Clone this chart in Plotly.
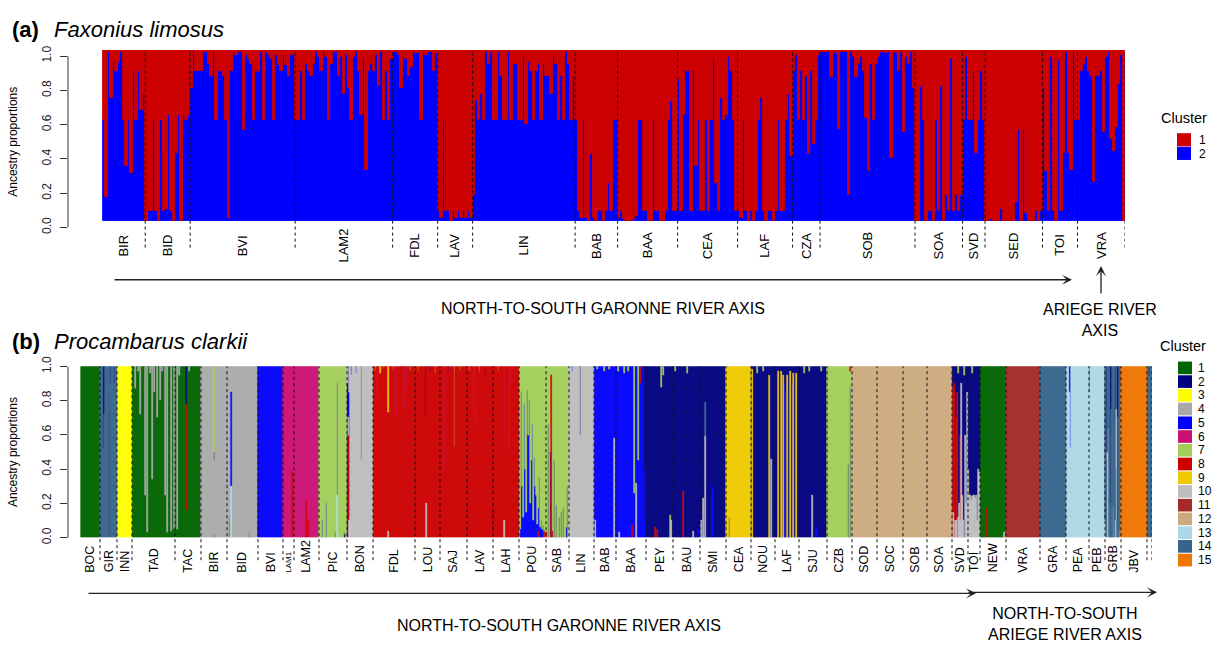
import plotly.graph_objects as go

# =====================================================================
# Panel (a) - Faxonius limosus : proportion of cluster 2 (blue) per individual
# (cluster 1 = remainder)
# =====================================================================
A_POPS = ["BIR", "BID", "BVI", "LAM2", "FDL", "LAV", "LIN", "BAB", "BAA", "CEA",
          "LAF", "CZA", "SOB", "SOA", "SVD", "SED", "TOI", "VRA"]

A_BIR = [0.59, 0.14, 0.99, 0.72, 0.93, 0.88, 0.93, 0.99, 0.59, 0.32, 0.59, 0.28, 0.88, 0.59, 0.88, 0.65, 0.74]
A_BID = [0.0, 0.06, 0.06, 0.59, 0.06, 0.0, 0.59, 0.06, 0.07, 0.62, 0.06, 0.0, 0.40, 0.62, 0.0, 0.62, 0.59, 0.62]
A_BVI = [0.78, 0.99, 0.88, 0.88, 0.88, 0.99, 0.99, 0.92, 0.85, 0.99, 0.59, 0.88, 0.88, 0.85, 0.59, 0.02,
         0.88, 0.99, 0.97, 0.99, 0.99, 0.53, 0.97, 0.95, 0.92, 0.59, 0.88, 0.87, 0.99, 0.59, 0.99, 0.97,
         0.95, 0.59, 0.97, 0.91, 0.88, 0.97, 0.91, 0.85, 0.97, 0.97]
A_LAM2 = [0.59, 0.59, 0.88, 0.59, 0.92, 0.88, 0.85, 0.92, 0.99, 0.96, 0.88, 0.99, 0.96, 0.59, 0.92, 0.99,
          0.99, 0.85, 0.96, 0.74, 0.97, 0.78, 0.59, 0.96, 0.99, 0.88, 0.62, 0.94, 0.30, 0.88, 0.92, 0.88,
          0.97, 0.79, 0.99, 0.59, 0.88, 0.59, 0.95]
A_FDL = [0.99, 0.99, 0.97, 0.78, 0.96, 0.95, 0.85, 0.90, 0.99, 0.98, 0.98, 0.59, 0.98, 0.97, 0.99, 0.99, 0.88, 0.98]
A_LAV = [0.06, 0.02, 0.59, 0.06, 0.06, 0.0, 0.06, 0.02, 0.06, 0.02, 0.06, 0.02, 0.06, 0.02]
A_LIN = [0.15, 0.71, 0.59, 0.74, 0.59, 0.99, 0.92, 0.99, 0.59, 0.59, 0.99, 0.85, 0.59, 0.59, 0.99, 0.59,
         0.92, 0.92, 0.59, 0.59, 0.96, 0.57, 0.93, 0.88, 0.59, 0.88, 0.92, 0.59, 0.92, 0.85, 0.85, 0.74,
         0.96, 0.92, 0.59, 0.85, 0.59, 0.99, 0.92, 0.59, 0.85]
A_BAB = [0.59, 0.06, 0.02, 0.59, 0.02, 0.0, 0.39, 0.02, 0.0, 0.06, 0.06, 0.0, 0.06, 0.22, 0.06, 0.59, 0.59]
A_BAA = [0.02, 0.06, 0.01, 0.0, 0.0, 0.0, 0.01, 0.03, 0.59, 0.59, 0.06, 0.06, 0.0, 0.0, 0.59, 0.06,
         0.06, 0.0, 0.0, 0.06, 0.59, 0.70, 0.06, 0.06]
A_CEA = [0.83, 0.06, 0.62, 0.88, 0.88, 0.06, 0.88, 0.32, 0.59, 0.06, 0.06, 0.59, 0.06, 0.59, 0.94, 0.22,
         0.06, 0.72, 0.59, 0.62, 0.96, 0.88, 0.59, 0.06]
A_LAF = [0.06, 0.02, 0.59, 0.06, 0.0, 0.06, 0.0, 0.06, 0.59, 0.72, 0.06, 0.0, 0.06, 0.06, 0.0, 0.06,
         0.59, 0.06, 0.06, 0.59, 0.74, 0.38]
A_CZA = [0.88, 0.97, 0.59, 0.88, 0.59, 0.85, 0.39, 0.88, 0.45, 0.59, 0.97]
A_SOB = [0.99, 0.99, 0.99, 0.99, 0.84, 0.99, 0.98, 0.54, 0.99, 0.99, 0.99, 0.15, 0.99, 0.96, 0.84, 0.92,
         0.96, 0.88, 0.60, 0.29, 0.92, 0.59, 0.92, 0.96, 0.99, 0.99, 0.98, 0.99, 0.37, 0.99, 0.98, 0.88,
         0.99, 0.52, 0.96, 0.92, 0.99, 0.78]
A_SOA = [0.0, 0.0, 0.79, 0.59, 0.0, 0.06, 0.06, 0.0, 0.59, 0.06, 0.79, 0.0, 0.15, 0.06, 0.95, 0.06, 0.15, 0.06, 0.15]
A_SVD = [0.59, 0.96, 0.59, 0.59, 0.88, 0.40, 0.59, 0.88, 0.59]
A_SED = [0.0, 0.0, 0.01, 0.0, 0.0, 0.0, 0.07, 0.0, 0.0, 0.0, 0.0, 0.0, 0.11, 0.53, 0.0, 0.53, 0.05, 0.0,
         0.0, 0.0, 0.06, 0.0, 0.06]
A_TOI = [0.78, 0.29, 0.06, 0.96, 0.06, 0.0, 0.94, 0.06, 0.40, 0.99, 0.40, 0.30, 0.99, 0.59]
A_VRA = [0.59, 0.88, 0.92, 0.96, 0.88, 0.85, 0.23, 0.85, 0.85, 0.88, 0.52, 0.96, 0.99, 0.48, 0.41, 0.55,
         0.80, 0.97, 0.0]

A_VALUES = [A_BIR, A_BID, A_BVI, A_LAM2, A_FDL, A_LAV, A_LIN, A_BAB, A_BAA, A_CEA,
            A_LAF, A_CZA, A_SOB, A_SOA, A_SVD, A_SED, A_TOI, A_VRA]
A_COLORS = {1: "#CC0000", 2: "#0000FF"}

# =====================================================================
# Panel (b) - Procambarus clarkii : 15 clusters
# each population: size, dominant cluster; admixed individuals listed below
# =====================================================================
B_POPS = ["BOC", "GIR", "INN", "TAD", "TAC", "BIR", "BID", "BVI", "LAM1", "LAM2", "PIC", "BON",
          "FDL", "LOU", "SAJ", "LAV", "LAH", "POU", "SAB", "LIN", "BAB", "BAA", "PEY", "BAU",
          "SMI", "CEA", "NOU", "LAF", "SJU", "CZB", "SOD", "SOC", "SOB", "SOA", "SVD", "TOI",
          "NEW", "VRA", "GRA", "PEA", "PEB", "GRB", "JBV", ""]
B_SIZES = [19, 17, 15, 43, 26, 26, 31, 25, 11, 25, 28, 26,
           42, 25, 27, 26, 26, 27, 23, 25, 22, 30, 27, 27,
           26, 25, 24, 24, 28, 25, 25, 26, 24, 25, 16, 12,
           26, 34, 26, 23, 16, 16, 26, 5]
B_DOMINANT = [1, 14, 3, 1, 1, 4, 4, 5, 6, 6, 7, 10,
              8, 8, 8, 8, 8, 7, 7, 10, 5, 5, 2, 2,
              2, 9, 2, 2, 2, 7, 12, 12, 12, 12, 2, 2,
              1, 11, 14, 13, 13, 14, 15, 14]

# (population, individual index, cluster, share, 'b' = below dominant / 't' = above dominant)
B_ADMIX_NORTH = [
    ("GIR", 3, 2, 0.48, "t"), ("GIR", 4, 2, 0.28, "t"), ("GIR", 9, 8, 0.85, "b"),
    ("GIR", 10, 2, 0.10, "t"), ("GIR", 14, 2, 0.10, "t"),
    ("TAD", 3, 4, 0.13, "t"), ("TAD", 8, 4, 0.28, "t"), ("TAD", 13, 4, 0.75, "t"),
    ("TAD", 15, 4, 0.97, "t"), ("TAD", 20, 4, 0.66, "t"), ("TAD", 22, 4, 0.15, "t"),
    ("TAD", 25, 4, 0.30, "t"), ("TAD", 28, 4, 0.20, "t"), ("TAD", 33, 4, 0.75, "t"),
    ("TAD", 35, 4, 0.97, "t"), ("TAD", 39, 4, 0.96, "t"), ("TAD", 42, 4, 0.95, "t"),
    ("TAD", 6, 4, 0.03, "t"), ("TAD", 18, 4, 0.04, "t"), ("TAD", 30, 4, 0.03, "t"),
    ("TAC", 2, 4, 0.95, "t"), ("TAC", 4, 4, 0.05, "t"), ("TAC", 11, 8, 0.62, "t"),
    ("TAC", 11, 2, 0.22, "t"), ("TAC", 14, 4, 0.03, "t"),
    ("BIR", 13, 1, 0.02, "b"), ("BIR", 13, 2, 0.05, "t"), ("BIR", 13, 7, 0.50, "t"),
    ("BID", 4, 13, 0.30, "b"), ("BID", 4, 5, 0.55, "b"), ("BID", 22, 1, 0.03, "b"),
    ("BID", 2, 1, 0.12, "b"),
    ("LAM1", 9, 8, 0.38, "b"),
    ("LAM2", 12, 8, 0.21, "b"), ("LAM2", 14, 8, 0.10, "b"),
    ("PIC", 3, 5, 0.10, "b"), ("PIC", 7, 5, 0.20, "b"), ("PIC", 18, 13, 0.25, "b"),
    ("PIC", 18, 5, 0.65, "b"), ("PIC", 16, 5, 0.03, "b"), ("PIC", 25, 2, 0.03, "b"),
    ("PIC", 26, 2, 0.02, "b"),
    ("BON", 0, 2, 0.90, "b"), ("BON", 1, 8, 0.60, "b"), ("BON", 1, 2, 0.30, "t"),
    ("BON", 2, 13, 0.10, "b"), ("BON", 2, 5, 0.75, "b"), ("BON", 14, 8, 0.55, "t"),
    ("BON", 4, 2, 0.05, "t"), ("BON", 9, 5, 0.04, "t"), ("BON", 16, 7, 0.06, "t"),
]
B_ADMIX_CENTRE = [
    ("FDL", 4, 6, 0.20, "t"), ("FDL", 15, 10, 0.04, "b"), ("FDL", 15, 9, 0.27, "t"),
    ("FDL", 23, 6, 0.30, "t"), ("FDL", 31, 6, 0.25, "t"), ("FDL", 33, 6, 0.15, "t"),
    ("FDL", 2, 7, 0.03, "t"), ("FDL", 7, 9, 0.04, "t"), ("FDL", 10, 7, 0.02, "t"),
    ("FDL", 20, 7, 0.03, "t"), ("FDL", 28, 5, 0.02, "t"), ("FDL", 37, 7, 0.03, "t"),
    ("LOU", 10, 2, 0.30, "t"), ("LOU", 11, 10, 0.20, "b"), ("LOU", 3, 7, 0.03, "t"),
    ("LOU", 15, 2, 0.03, "t"), ("LOU", 20, 7, 0.04, "t"),
    ("SAJ", 4, 6, 0.60, "t"), ("SAJ", 14, 7, 0.47, "t"), ("SAJ", 8, 2, 0.03, "t"),
    ("SAJ", 20, 7, 0.03, "t"),
    ("LAV", 6, 6, 0.28, "t"), ("LAV", 8, 6, 0.35, "t"), ("LAV", 18, 2, 0.05, "t"),
    ("LAV", 2, 7, 0.03, "t"), ("LAV", 12, 7, 0.04, "t"),
    ("LAH", 0, 2, 0.17, "b"), ("LAH", 11, 10, 0.10, "b"), ("LAH", 11, 6, 0.38, "t"),
    ("LAH", 16, 6, 0.50, "t"), ("LAH", 18, 6, 0.12, "t"), ("LAH", 5, 7, 0.03, "t"),
    ("POU", 1, 5, 0.05, "b"), ("POU", 2, 5, 0.85, "b"), ("POU", 3, 5, 0.30, "b"),
    ("POU", 4, 5, 0.12, "b"), ("POU", 5, 5, 0.78, "b"), ("POU", 6, 5, 0.40, "b"),
    ("POU", 7, 5, 0.15, "b"), ("POU", 8, 5, 0.86, "b"), ("POU", 9, 2, 0.05, "b"),
    ("POU", 9, 5, 0.55, "b"), ("POU", 10, 5, 0.80, "b"), ("POU", 11, 5, 0.20, "b"),
    ("POU", 12, 5, 0.45, "b"), ("POU", 13, 5, 0.66, "b"), ("POU", 14, 5, 0.10, "b"),
    ("POU", 15, 5, 0.47, "b"), ("POU", 16, 5, 0.30, "b"), ("POU", 17, 5, 0.25, "b"),
    ("POU", 18, 5, 0.08, "b"), ("POU", 19, 8, 0.04, "b"), ("POU", 19, 5, 0.13, "b"),
    ("POU", 20, 5, 0.35, "b"), ("POU", 21, 5, 0.06, "b"), ("POU", 22, 2, 0.10, "b"),
    ("POU", 23, 5, 0.05, "b"), ("POU", 24, 5, 0.07, "b"), ("POU", 25, 8, 0.04, "b"),
    ("SAB", 2, 2, 0.66, "b"), ("SAB", 4, 2, 0.50, "b"), ("SAB", 5, 8, 0.95, "b"),
    ("SAB", 8, 2, 0.45, "b"), ("SAB", 10, 2, 0.19, "b"), ("SAB", 13, 2, 0.12, "b"),
    ("SAB", 15, 2, 0.15, "b"), ("SAB", 17, 2, 0.17, "b"), ("SAB", 20, 2, 0.06, "b"),
    ("SAB", 21, 5, 0.30, "b"), ("SAB", 0, 8, 0.03, "b"), ("SAB", 6, 8, 0.04, "b"),
    ("LIN", 11, 2, 0.40, "t"), ("LIN", 18, 9, 0.55, "t"), ("LIN", 3, 5, 0.03, "t"),
]
B_ADMIX_SOUTH = [
    ("BAB", 1, 10, 0.10, "b"), ("BAB", 20, 10, 0.58, "b"), ("BAB", 3, 7, 0.02, "t"),
    ("BAB", 10, 7, 0.03, "t"), ("BAB", 15, 9, 0.02, "t"),
    ("BAA", 3, 10, 0.03, "b"), ("BAA", 16, 8, 0.07, "b"), ("BAA", 18, 7, 0.74, "t"),
    ("BAA", 19, 2, 0.25, "t"), ("BAA", 20, 10, 0.32, "b"), ("BAA", 21, 2, 0.70, "t"),
    ("BAA", 22, 7, 0.55, "t"), ("BAA", 24, 8, 0.10, "t"), ("BAA", 26, 2, 0.95, "t"),
    ("BAA", 28, 2, 0.90, "t"), ("BAA", 29, 2, 0.60, "t"), ("BAA", 2, 7, 0.03, "t"),
    ("BAA", 8, 7, 0.04, "t"), ("BAA", 12, 7, 0.03, "t"),
    ("PEY", 15, 7, 0.12, "t"), ("PEY", 17, 7, 0.05, "t"), ("PEY", 9, 8, 0.06, "b"),
    ("PEY", 11, 8, 0.05, "b"), ("PEY", 24, 7, 0.13, "b"), ("PEY", 25, 10, 0.10, "b"),
    ("BAU", 10, 8, 0.27, "b"), ("BAU", 20, 10, 0.04, "b"), ("BAU", 25, 5, 0.05, "b"),
    ("BAU", 2, 7, 0.03, "t"), ("BAU", 14, 7, 0.04, "t"),
    ("SMI", 3, 10, 0.23, "b"), ("SMI", 5, 10, 0.59, "b"), ("SMI", 5, 14, 0.20, "b"),
    ("SMI", 1, 10, 0.10, "b"), ("SMI", 12, 5, 0.30, "b"),
    ("CEA", 3, 5, 0.12, "b"),
    ("NOU", 1, 9, 0.98, "b"), ("NOU", 18, 9, 0.95, "b"), ("NOU", 20, 10, 0.46, "b"),
    ("NOU", 6, 7, 0.04, "t"), ("NOU", 12, 7, 0.03, "t"),
    ("LAF", 3, 9, 0.97, "b"), ("LAF", 6, 9, 0.97, "b"), ("LAF", 8, 9, 0.95, "b"),
    ("LAF", 9, 5, 0.90, "b"), ("LAF", 10, 5, 0.85, "b"), ("LAF", 12, 9, 0.95, "b"),
    ("LAF", 15, 9, 0.97, "b"), ("LAF", 17, 5, 0.90, "b"), ("LAF", 18, 9, 0.96, "b"),
    ("LAF", 21, 9, 0.96, "b"),
    ("SJU", 13, 10, 0.25, "b"), ("SJU", 17, 5, 0.06, "b"), ("SJU", 5, 7, 0.04, "t"),
    ("SJU", 10, 7, 0.03, "t"), ("SJU", 22, 7, 0.03, "t"),
    ("CZB", 21, 2, 0.43, "b"), ("CZB", 23, 2, 0.88, "b"), ("CZB", 23, 8, 0.03, "t"),
    ("SVD", 0, 8, 0.88, "b"), ("SVD", 1, 10, 0.15, "b"), ("SVD", 1, 8, 0.70, "b"),
    ("SVD", 2, 8, 0.90, "b"), ("SVD", 3, 10, 0.10, "b"), ("SVD", 4, 10, 0.10, "b"),
    ("SVD", 4, 8, 0.60, "b"), ("SVD", 5, 8, 0.85, "b"), ("SVD", 6, 10, 0.12, "b"),
    ("SVD", 7, 10, 0.20, "b"), ("SVD", 8, 10, 0.10, "b"), ("SVD", 8, 8, 0.50, "b"),
    ("SVD", 9, 10, 0.90, "b"), ("SVD", 10, 10, 0.25, "b"), ("SVD", 11, 10, 0.10, "b"),
    ("SVD", 12, 7, 0.05, "t"), ("SVD", 13, 10, 0.60, "b"), ("SVD", 14, 10, 0.20, "b"),
    ("SVD", 15, 10, 0.85, "b"), ("SVD", 6, 7, 0.04, "t"),
    ("TOI", 0, 10, 0.40, "b"), ("TOI", 1, 10, 0.25, "b"), ("TOI", 2, 10, 0.25, "b"),
    ("TOI", 3, 10, 0.22, "b"), ("TOI", 4, 10, 0.24, "b"), ("TOI", 5, 10, 0.25, "b"),
    ("TOI", 6, 10, 0.25, "b"), ("TOI", 7, 10, 0.23, "b"), ("TOI", 8, 10, 0.25, "b"),
    ("TOI", 9, 10, 0.10, "b"), ("TOI", 10, 10, 0.40, "b"), ("TOI", 11, 10, 0.38, "b"),
    ("TOI", 4, 7, 0.04, "t"),
    ("NEW", 6, 8, 0.17, "b"), ("NEW", 24, 10, 0.03, "b"),
    ("PEA", 4, 5, 0.48, "t"), ("PEA", 3, 5, 0.15, "t"), ("PEA", 9, 10, 0.04, "b"),
    ("PEB", 0, 2, 0.15, "t"),
    ("GRB", 0, 10, 0.10, "b"), ("GRB", 1, 2, 0.55, "t"), ("GRB", 2, 10, 0.50, "b"),
    ("GRB", 3, 10, 0.64, "b"), ("GRB", 5, 2, 0.80, "t"), ("GRB", 6, 2, 0.25, "t"),
    ("GRB", 8, 10, 0.19, "b"), ("GRB", 10, 10, 0.10, "b"), ("GRB", 10, 2, 0.60, "t"),
    ("GRB", 11, 10, 0.75, "b"), ("GRB", 12, 2, 0.90, "t"), ("GRB", 13, 2, 0.30, "t"),
    ("GRB", 14, 10, 0.05, "b"), ("GRB", 15, 2, 0.10, "t"),
    ("", 2, 2, 0.06, "t"),
]

B_COLORS = ["#006400", "#000080", "#FFFF00", "#A9A9A9", "#0000FF", "#CD1076", "#A2CD5A",
            "#CD0000", "#EEC900", "#BEBEBE", "#A52A2A", "#CDAA7D", "#ADD8E6", "#36648B", "#EE7600"]
B_CLUSTERS = list(range(1, 16))
B_SMALL_LABELS = ["LAM1"]

Y_TICKS = [0.0, 0.2, 0.4, 0.6, 0.8, 1.0]

# =====================================================================
# Geometry (pixels of the 1215 x 649 canvas)
# =====================================================================
W, H = 1215, 649
FONT = "Liberation Sans, Arial, sans-serif"


def fx(p):
    return p / W


def fy(p):
    return 1 - p / H


AXIS_X = 68
# panel a
A_BAR_X0, A_BAR_X1 = 102.7, 1125.0
A_Y0, A_Y1 = 223.3, 47.3         # pixel rows of value 0 and value 1
A_BAR_TOP = 41.0
A_BAR_BOTTOM = 216.7
# panel b
B_BAR_X0, B_BAR_X1 = 81.0, 1152.0
B_Y0, B_Y1 = 542.0, 366.0

fig = go.Figure()

# ---------------- panel (a) bars ----------------
a_q = [v for vals in A_VALUES for v in vals]
a_n = len(a_q)
a_unit = (A_Y0 - A_Y1)
a_base = (A_Y0 - A_BAR_BOTTOM) / a_unit
a_top = (A_Y0 - A_BAR_TOP) / a_unit
a_scale = a_top - a_base
a_x = list(range(a_n))
fig.add_trace(go.Bar(x=a_x, y=[q * a_scale for q in a_q], base=[a_base] * a_n, width=1.0,
                     marker=dict(color=A_COLORS[2], line=dict(width=0.9, color=A_COLORS[2])),
                     showlegend=False, hoverinfo="skip", xaxis="x", yaxis="y"))
fig.add_trace(go.Bar(x=a_x, y=[(1 - q) * a_scale for q in a_q], base=[a_base + q * a_scale for q in a_q],
                     width=1.0,
                     marker=dict(color=A_COLORS[1], line=dict(width=0.9, color=A_COLORS[1])),
                     showlegend=False, hoverinfo="skip", xaxis="x", yaxis="y"))

# ---------------- panel (b) bars ----------------
admix = B_ADMIX_NORTH + B_ADMIX_CENTRE + B_ADMIX_SOUTH
segs = {c: {"x": [], "y": [], "base": []} for c in B_CLUSTERS}
b_starts = []
pos = 0
for pop, n, dom in zip(B_POPS, B_SIZES, B_DOMINANT):
    b_starts.append(pos)
    for i in range(n):
        ex = [e for e in admix if e[0] == pop and e[1] == i]
        below = [(e[2], e[3]) for e in ex if e[4] == "b"]
        above = [(e[2], e[3]) for e in ex if e[4] == "t"]
        rest = 1.0 - sum(s for _, s in below) - sum(s for _, s in above)
        stack = below + [(dom, rest)] + above
        b = 0.0
        for c, s in stack:
            segs[c]["x"].append(pos + i)
            segs[c]["y"].append(s)
            segs[c]["base"].append(b)
            b += s
    pos += n
b_n = pos

for c in B_CLUSTERS:
    col = B_COLORS[c - 1]
    if not segs[c]["x"]:
        continue
    fig.add_trace(go.Bar(x=segs[c]["x"], y=segs[c]["y"], base=segs[c]["base"], width=1.0,
                         marker=dict(color=col, line=dict(width=0.6, color=col)),
                         showlegend=False, hoverinfo="skip", xaxis="x2", yaxis="y2"))

# ---------------- axes ----------------
a_w = (A_BAR_X1 - A_BAR_X0) / a_n
a_left = -0.5 - (A_BAR_X0 - AXIS_X) / a_w
b_w = (B_BAR_X1 - B_BAR_X0) / b_n
b_left = -0.5 - (B_BAR_X0 - AXIS_X) / b_w

yaxis_common = dict(
    tickvals=Y_TICKS, ticktext=["%.1f" % t for t in Y_TICKS], tickangle=-90,
    ticks="outside", ticklen=7, tickwidth=1, tickcolor="#333",
    tickfont=dict(size=12, color="#222", family=FONT), showgrid=False, zeroline=False,
    showline=False, fixedrange=True, ticklabelstandoff=4,
)
xaxis_common = dict(showgrid=False, zeroline=False, showline=False, showticklabels=False,
                    ticks="", fixedrange=True)

fig.update_layout(
    width=W, height=H, margin=dict(l=0, r=0, t=0, b=0),
    paper_bgcolor="white", plot_bgcolor="white",
    barmode="overlay", bargap=0, font=dict(family=FONT, color="black"),
    xaxis=dict(domain=[fx(AXIS_X), fx(A_BAR_X1)], range=[a_left, a_n - 0.5], anchor="y", **xaxis_common),
    yaxis=dict(domain=[fy(A_Y0), fy(A_BAR_TOP)], range=[0, a_top], anchor="x", **yaxis_common),
    xaxis2=dict(domain=[fx(AXIS_X), fx(B_BAR_X1)], range=[b_left, b_n - 0.5], anchor="y2", **xaxis_common),
    yaxis2=dict(domain=[fy(B_Y0), fy(B_Y1)], range=[0, 1], anchor="x2", **yaxis_common),
)

shapes = []
annotations = []

# y axis lines (R style, spanning 0..1 only)
shapes.append(dict(type="line", xref="x domain", yref="y", x0=0, x1=0, y0=0, y1=1,
                   line=dict(color="#333", width=1)))
shapes.append(dict(type="line", xref="x2 domain", yref="y2", x0=0, x1=0, y0=0, y1=1,
                   line=dict(color="#333", width=1)))

# population separators and labels, panel (a)
pos = 0
for pop, vals in zip(A_POPS, A_VALUES):
    n = len(vals)
    annotations.append(dict(x=pos + (n - 1) / 2, y=fy(242), xref="x", yref="paper", text=pop,
                            showarrow=False, textangle=-90, xanchor="center", yanchor="middle",
                            font=dict(size=13, family=FONT, color="black")))
    pos += n
    shapes.append(dict(type="line", xref="x", yref="paper", x0=pos - 0.5, x1=pos - 0.5,
                       y0=fy(244), y1=fy(A_BAR_TOP), line=dict(color="#111", width=1, dash="3px,3px")))

# population separators and labels, panel (b)
for pop, n, st in zip(B_POPS, B_SIZES, b_starts):
    if pop:
        annotations.append(dict(x=st + (n - 1) / 2, y=fy(580), xref="x2", yref="paper", text=pop,
                                showarrow=False, textangle=-90, xanchor="center", yanchor="bottom",
                                font=dict(size=8 if pop in B_SMALL_LABELS else 12.5,
                                          family=FONT, color="black")))
    shapes.append(dict(type="line", xref="x2", yref="paper", x0=st + n - 0.5, x1=st + n - 0.5,
                       y0=fy(565), y1=fy(B_Y1), line=dict(color="#111", width=1, dash="3px,3px")))

# titles
for label, species, ycen in [("(a)", "Faxonius limosus", 20), ("(b)", "Procambarus clarkii", 340)]:
    annotations.append(dict(x=fx(10), y=fy(ycen), xref="paper", yref="paper", text="<b>%s</b>" % label,
                            showarrow=False, xanchor="left", yanchor="middle",
                            font=dict(size=22, family=FONT, color="black")))
    annotations.append(dict(x=fx(52), y=fy(ycen), xref="paper", yref="paper", text="<i>%s</i>" % species,
                            showarrow=False, xanchor="left", yanchor="middle",
                            font=dict(size=22, family=FONT, color="black")))

# y axis titles
for ycen in [(A_Y0 + A_Y1) / 2, (B_Y0 + B_Y1) / 2]:
    annotations.append(dict(x=fx(13), y=fy(ycen), xref="paper", yref="paper", text="Ancestry proportions",
                            showarrow=False, textangle=-90, xanchor="center", yanchor="middle",
                            font=dict(size=12, family=FONT, color="black")))


# river axis arrows and texts
def arrow(x_head, y_head, x_tail, y_tail):
    annotations.append(dict(x=fx(x_head), y=fy(y_head), xref="paper", yref="paper", text="",
                            showarrow=True, ax=x_tail - x_head, ay=y_tail - y_head,
                            axref="pixel", ayref="pixel", arrowhead=3, arrowsize=1.3,
                            arrowwidth=1.3, arrowcolor="#222"))


def text(x, y, s, size=16):
    annotations.append(dict(x=fx(x), y=fy(y), xref="paper", yref="paper", text=s, showarrow=False,
                            xanchor="center", yanchor="middle",
                            font=dict(size=size, family=FONT, color="black")))


arrow(1072, 277, 113, 277)
arrow(1101, 263, 1101, 292)
text(603, 307, "NORTH-TO-SOUTH GARONNE RIVER AXIS")
text(1100, 318, "ARIEGE RIVER<br>AXIS")

arrow(976, 599, 87, 599)
arrow(1157, 598, 967, 598)
text(559, 632, "NORTH-TO-SOUTH GARONNE RIVER AXIS")
text(1065, 631, "NORTH-TO-SOUTH<br>ARIEGE RIVER AXIS")

# legends
text(1184, 111, "Cluster", size=14.5)
for k, c in enumerate([1, 2]):
    top = 126.5 + k * 14
    shapes.append(dict(type="rect", xref="paper", yref="paper", x0=fx(1177), x1=fx(1191),
                       y0=fy(top + 13.5), y1=fy(top), fillcolor=A_COLORS[c], line=dict(width=0)))
    annotations.append(dict(x=fx(1197), y=fy(top + 7), xref="paper", yref="paper", text=str(c),
                            showarrow=False, xanchor="left", yanchor="middle",
                            font=dict(size=12, family=FONT, color="black")))

text(1183, 345, "Cluster", size=14.5)
for k, c in enumerate(B_CLUSTERS):
    top = 361 + k * 14.1
    shapes.append(dict(type="rect", xref="paper", yref="paper", x0=fx(1178), x1=fx(1192),
                       y0=fy(top + 13), y1=fy(top), fillcolor=B_COLORS[c - 1], line=dict(width=0)))
    annotations.append(dict(x=fx(1196), y=fy(top + 6.5), xref="paper", yref="paper", text=str(c),
                            showarrow=False, xanchor="left", yanchor="middle",
                            font=dict(size=12, family=FONT, color="black")))

fig.update_layout(shapes=shapes, annotations=annotations)

fig.write_html("out.html", config={"displayModeBar": False},
               post_script="document.body.style.margin='0px';")
